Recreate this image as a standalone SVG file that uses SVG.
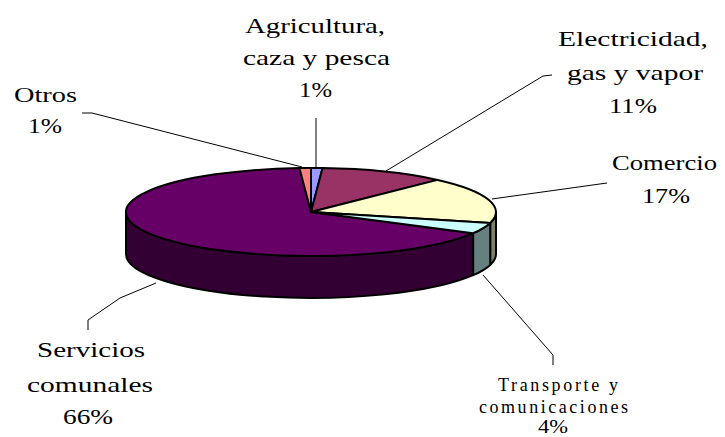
<svg xmlns="http://www.w3.org/2000/svg" width="725" height="437" viewBox="0 0 725 437">
<style>
.lbl{font-family:"Liberation Serif","Times New Roman",serif;font-size:21px;fill:#000}
.sm{font-family:"Liberation Serif","Times New Roman",serif;font-size:18px;fill:#000}
.edge{stroke:#000;stroke-width:2;stroke-linejoin:round}
.lead{fill:none;stroke:#000;stroke-width:1}
</style>
<rect width="725" height="437" fill="#fff"/>
<g id="pie">
  <g id="sides" class="edge">
    <path d="M496,212 A185,44 0 0 1 490.2,222.9 L490.2,264.9 A185,44 0 0 0 496,254 Z" fill="#808066"/>
    <path d="M490.2,222.9 A185,44 0 0 1 473.1,233.2 L473.1,275.2 A185,44 0 0 0 490.2,264.9 Z" fill="#668080"/>
    <path d="M473.1,233.2 A185,44 0 0 1 126,212 L126,254 A185,44 0 0 0 473.1,275.2 Z" fill="#330033"/>
  </g>
  <g id="servicios" class="edge"><path d="M311,212 L473.1,233.2 A185,44 0 1 1 299.4,168.1 Z" fill="#660066"/></g>
  <g id="otros" class="edge"><path d="M311,212 L299.4,168.1 A185,44 0 0 1 311,168 Z" fill="#FF8080"/></g>
  <g id="agricultura" class="edge"><path d="M311,212 L311,168 A185,44 0 0 1 322.6,168.1 Z" fill="#9999FF"/></g>
  <g id="electricidad" class="edge"><path d="M311,212 L322.6,168.1 A185,44 0 0 1 437.6,179.9 Z" fill="#993366"/></g>
  <g id="comercio" class="edge"><path d="M311,212 L437.6,179.9 A185,44 0 0 1 490.2,222.9 Z" fill="#FFFFCC"/></g>
  <g id="transporte" class="edge"><path d="M311,212 L490.2,222.9 A185,44 0 0 1 473.1,233.2 Z" fill="#CCFFFF"/></g>
</g>
<g id="connectors" class="lead">
  <polyline points="316,118 316,167"/>
  <polyline points="552,75 543,76 386,171"/>
  <polyline points="82,113 92,113 302,167"/>
  <polyline points="607,183 492,199"/>
  <polyline points="88,330 88,320 120,298 156,283"/>
  <polyline points="483,275 553,355 553,365"/>
</g>
<g id="label-agricultura">
  <text class="lbl" x="245" y="33" textLength="140" lengthAdjust="spacingAndGlyphs">Agricultura,</text>
  <text class="lbl" x="243" y="65" textLength="147" lengthAdjust="spacingAndGlyphs">caza y pesca</text>
  <text class="lbl" x="299" y="97" textLength="33" lengthAdjust="spacingAndGlyphs">1%</text>
</g>
<g id="label-electricidad">
  <text class="lbl" x="558" y="46" textLength="150" lengthAdjust="spacingAndGlyphs">Electricidad,</text>
  <text class="lbl" x="567" y="80" textLength="136" lengthAdjust="spacingAndGlyphs">gas y vapor</text>
  <text class="lbl" x="609" y="113" textLength="48" lengthAdjust="spacingAndGlyphs">11%</text>
</g>
<g id="label-otros">
  <text class="lbl" x="14" y="102" textLength="63" lengthAdjust="spacingAndGlyphs">Otros</text>
  <text class="lbl" x="28" y="133" textLength="34" lengthAdjust="spacingAndGlyphs">1%</text>
</g>
<g id="label-comercio">
  <text class="lbl" x="612" y="170" textLength="105" lengthAdjust="spacingAndGlyphs">Comercio</text>
  <text class="lbl" x="642" y="203" textLength="48" lengthAdjust="spacingAndGlyphs">17%</text>
</g>
<g id="label-servicios">
  <text class="lbl" x="37" y="357" textLength="108" lengthAdjust="spacingAndGlyphs">Servicios</text>
  <text class="lbl" x="27" y="392" textLength="126" lengthAdjust="spacingAndGlyphs">comunales</text>
  <text class="lbl" x="63" y="424" textLength="50" lengthAdjust="spacingAndGlyphs">66%</text>
</g>
<g id="label-transporte">
  <text class="sm" x="498" y="391" textLength="120" lengthAdjust="spacing">Transporte y</text>
  <text class="sm" x="479" y="413" textLength="149" lengthAdjust="spacing">comunicaciones</text>
  <text class="sm" x="538" y="433" textLength="30" lengthAdjust="spacingAndGlyphs">4%</text>
</g>
</svg>
